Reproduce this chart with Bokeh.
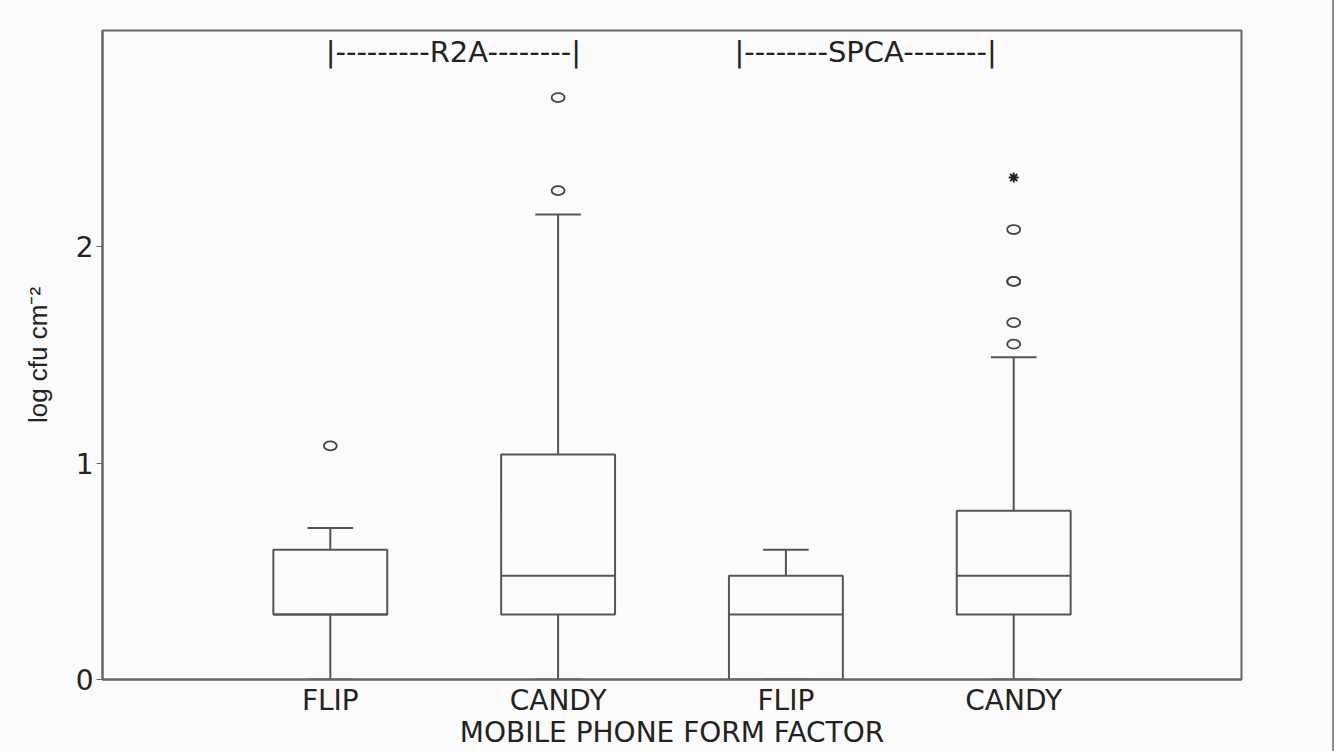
import numpy as np
from bokeh.plotting import figure
from bokeh.models import Range1d, FixedTicker, ColumnDataSource
from bokeh.core.properties import value
from bokeh.embed import file_html
from bokeh.resources import INLINE

# ---- data ----
positions = [1, 2, 3, 4]
form_factors = ["FLIP", "CANDY", "FLIP", "CANDY"]
lower_whisker = [0.0, 0.0, 0.0, 0.0]
q1 = [0.30, 0.30, 0.00, 0.30]
median = [0.30, 0.48, 0.30, 0.48]
q3 = [0.60, 1.04, 0.48, 0.78]
upper_whisker = [0.70, 2.15, 0.60, 1.49]
outlier_pos = [1, 2, 2, 4, 4, 4, 4, 4]
outlier_val = [1.08, 2.26, 2.69, 1.55, 1.65, 1.84, 1.84, 2.08]
extreme_pos = [4]
extreme_val = [2.32]
media_labels = ["|---------R2A--------|", "|--------SPCA--------|"]
media_label_x = [1.54, 3.35]
media_label_y = [2.90, 2.90]
y_ticks = [0, 1, 2]

BOX_HALF = 0.25
CAP_HALF = 0.10
LINE = "#555555"
BG = "#fbfbfb"
FONT = "DejaVu Sans"

p = figure(width=1334, height=751,
           x_range=Range1d(0, 5), y_range=Range1d(0, 3),
           output_backend="svg", toolbar_location=None,
           min_border_left=102, min_border_right=93,
           min_border_top=30, min_border_bottom=71,
           background_fill_color=BG, border_fill_color=BG)
p.styles = {"border-right": "2px solid #8c8c8c"}
p.grid.visible = False
p.outline_line_color = "#666666"
p.outline_line_width = 2

x = np.array(positions, dtype=float)
src = ColumnDataSource(dict(
    x=x, left=x - BOX_HALF, right=x + BOX_HALF,
    cl=x - CAP_HALF, cr=x + CAP_HALF,
    lw=lower_whisker, q1=q1, med=median, q3=q3, uw=upper_whisker))

# whiskers
p.segment(x0="x", y0="q3", x1="x", y1="uw", source=src, line_color=LINE, line_width=2)
p.segment(x0="x", y0="lw", x1="x", y1="q1", source=src, line_color=LINE, line_width=2)
p.segment(x0="cl", y0="uw", x1="cr", y1="uw", source=src, line_color=LINE, line_width=2)
p.segment(x0="cl", y0="lw", x1="cr", y1="lw", source=src, line_color=LINE, line_width=2)
# boxes
p.quad(left="left", right="right", bottom="q1", top="q3", source=src,
       fill_color=None, line_color=LINE, line_width=2)
p.segment(x0="left", y0="med", x1="right", y1="med", source=src, line_color=LINE, line_width=2)

# outliers
p.ellipse(x=outlier_pos, y=outlier_val, width=13, height=9,
          width_units="screen", height_units="screen",
          fill_color=None, line_color="#444444", line_width=1.8)
p.scatter(x=extreme_pos, y=extreme_val, marker="asterisk", size=10,
          line_color="#222222", line_width=2)

# media labels
p.text(x=media_label_x, y=media_label_y, text=media_labels,
       text_font=value(FONT), text_font_size="29px",
       text_align="center", text_baseline="middle", text_color="#222222")

# axes
p.xaxis.ticker = FixedTicker(ticks=positions)
p.xaxis.major_label_overrides = {pos: lab for pos, lab in zip(positions, form_factors)}
p.xaxis.minor_tick_line_color = None
p.xaxis.major_tick_out = 0
p.xaxis.major_label_standoff = 4
p.xaxis.axis_label = "MOBILE PHONE FORM FACTOR"
p.xaxis.axis_label_standoff = -4
p.xaxis.axis_label_text_font = FONT
p.xaxis.axis_label_text_font_style = "normal"
p.xaxis.axis_label_text_font_size = "28px"
p.xaxis.axis_label_text_color = "#222222"

p.yaxis.ticker = FixedTicker(ticks=y_ticks)
p.yaxis.minor_tick_line_color = None
p.yaxis.major_tick_out = 6
p.yaxis.major_tick_in = 0
p.yaxis.major_label_standoff = 3
p.yaxis.axis_label = "log cfu cm\u207b\u00b2"
p.yaxis.axis_label_standoff = 20
p.yaxis.axis_label_text_font = "Liberation Sans"
p.yaxis.axis_label_text_font_style = "normal"
p.yaxis.axis_label_text_font_size = "26px"
p.yaxis.axis_label_text_color = "#222222"

for ax in (p.xaxis, p.yaxis):
    ax.axis_line_color = "#666666"
    ax.axis_line_width = 2
    ax.major_tick_line_color = "#666666"
    ax.major_label_text_font = FONT
    ax.major_label_text_font_size = "28px"
    ax.major_label_text_color = "#222222"
p.xaxis.major_tick_line_color = None

open("out.html", "w").write(file_html(p, INLINE))
